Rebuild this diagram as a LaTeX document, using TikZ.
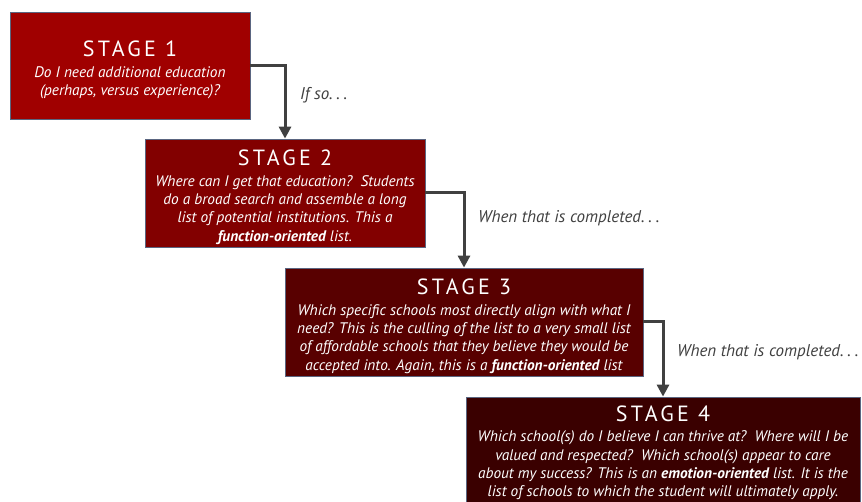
\documentclass[tikz,border=0pt]{standalone}
\usepackage{fontspec}
\setmainfont{PT Sans}
\newfontfamily\titlefont[LetterSpace=15]{PT Sans}
\usetikzlibrary{arrows.meta}
\definecolor{cone}{HTML}{A00000}
\definecolor{ctwo}{HTML}{820000}
\definecolor{cthree}{HTML}{580000}
\definecolor{cfour}{HTML}{3A0000}
\definecolor{edgec}{HTML}{5A6580}
\definecolor{arrc}{HTML}{404040}
\tikzset{
  stagebox/.style={draw=edgec, line width=0.8pt, text=white, align=center, inner sep=0pt,
    font=\fontsize{15.3}{18.3}\selectfont\itshape},
  flow/.style={arrc, line width=3pt, -{Triangle[width=12pt,length=12pt]}},
  flowlabel/.style={text=arrc, anchor=west, font=\fontsize{17}{18}\selectfont\itshape, inner sep=0pt},
}
\newcommand{\stitle}[1]{{\upshape\titlefont\fontsize{22}{24}\selectfont\rule{0pt}{24pt}#1}\\[2.5pt]}
\newcommand{\dotsx}{.\hspace{0.22em}.\hspace{0.22em}.}
\begin{document}
\begin{tikzpicture}[x=1pt,y=-1pt]
\useasboundingbox (0,0) rectangle (862,502);
\node[stagebox, fill=cone, minimum width=240pt, minimum height=107pt] (s1) at (130,65.5)
  {\stitle{STAGE 1}Do I need additional education\\(perhaps, versus experience)?};
\node[stagebox, fill=ctwo, minimum width=280pt, minimum height=108pt] (s2) at (285,193)
  {\stitle{STAGE 2}Where can I get that education?\ \ Students\\do a broad search and assemble a long\\list of potential institutions. This a\\\textbf{function-oriented} list.};
\node[stagebox, fill=cthree, minimum width=358pt, minimum height=108pt] (s3) at (464,322)
  {\stitle{STAGE 3}Which specific schools most directly align with what I\\need? This is the culling of the list to a very small list\\of affordable schools that they believe they would be\\accepted into. Again, this is a \textbf{function-oriented} list};
\node[stagebox, fill=cfour, minimum width=394pt, minimum height=112pt] (s4) at (663,453)
  {\stitle{STAGE 4}Which school(s) do I believe I can thrive at?\ \ Where will I be\\valued and respected?\ \ Which school(s) appear to care\\about my success? This is an \textbf{emotion-oriented} list. It is the\\list of schools to which the student will ultimately apply.\rule[-12pt]{0pt}{12pt}};
\draw[flow] (s1.east) -| (s2.north);
\draw[flow] (s2.east) -| (s3.north);
\draw[flow] (s3.east) -| (s4.north);
\node[flowlabel] (l1) at (300,95) {If so\dotsx};
\node[flowlabel] (l2) at (478,218) {When that is completed\dotsx};
\node[flowlabel] (l3) at (677,352) {When that is completed\dotsx};
\end{tikzpicture}
\end{document}
